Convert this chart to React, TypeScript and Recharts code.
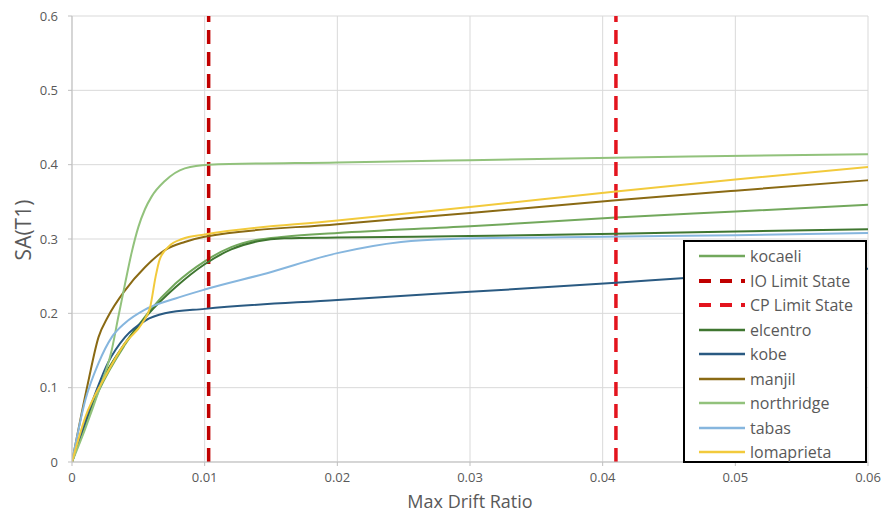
import React from 'react';
import { LineChart, Line, XAxis, YAxis, CartesianGrid, Label } from 'recharts';

const xTicks = [0, 0.01, 0.02, 0.03, 0.04, 0.05, 0.06];
const yTicks = [0, 0.1, 0.2, 0.3, 0.4, 0.5, 0.6];

const kocaeli: [number, number][] = [
  [0, 0], [0.002, 0.095], [0.004, 0.158], [0.0057, 0.2], [0.0078, 0.24], [0.01, 0.27],
  [0.012, 0.289], [0.014, 0.299], [0.016, 0.303], [0.02, 0.308], [0.03, 0.317],
  [0.041, 0.329], [0.05, 0.337], [0.06, 0.346],
];
const ioLimit: [number, number][] = [[0.0103, 0], [0.0103, 0.6]];
const cpLimit: [number, number][] = [[0.041, 0], [0.041, 0.6]];
const elcentro: [number, number][] = [
  [0, 0], [0.002, 0.1], [0.004, 0.16], [0.0057, 0.198], [0.0078, 0.235], [0.01, 0.266],
  [0.012, 0.286], [0.014, 0.297], [0.016, 0.301], [0.02, 0.302], [0.03, 0.304],
  [0.041, 0.307], [0.05, 0.31], [0.06, 0.313],
];
const kobe: [number, number][] = [
  [0, 0], [0.0015, 0.08], [0.0027, 0.133], [0.004, 0.168], [0.0055, 0.19], [0.007, 0.2],
  [0.01, 0.206], [0.02, 0.218], [0.03, 0.229], [0.041, 0.241], [0.0465, 0.248], [0.06, 0.26],
];
const manjil: [number, number][] = [
  [0, 0], [0.0012, 0.106], [0.002, 0.168], [0.0027, 0.195], [0.004, 0.231], [0.0055, 0.262],
  [0.007, 0.285], [0.0085, 0.296], [0.01, 0.303], [0.02, 0.32], [0.03, 0.335],
  [0.041, 0.352], [0.05, 0.365], [0.06, 0.379],
];
const northridge: [number, number][] = [
  [0, 0], [0.001, 0.045], [0.002, 0.095], [0.003, 0.151], [0.0035, 0.196], [0.004, 0.24],
  [0.0045, 0.282], [0.005, 0.316], [0.0055, 0.34], [0.006, 0.357], [0.007, 0.378],
  [0.0085, 0.395], [0.0103, 0.4], [0.02, 0.403], [0.03, 0.406], [0.0465, 0.411], [0.06, 0.414],
];
const tabas: [number, number][] = [
  [0, 0], [0.001, 0.083], [0.002, 0.133], [0.003, 0.168], [0.004, 0.187], [0.0055, 0.205],
  [0.0078, 0.22], [0.01, 0.232], [0.0147, 0.254], [0.02, 0.281], [0.0248, 0.296],
  [0.0286, 0.3], [0.04, 0.303], [0.05, 0.305], [0.06, 0.308],
];
const lomaprieta: [number, number][] = [
  [0, 0], [0.001, 0.06], [0.0025, 0.115], [0.004, 0.16], [0.0053, 0.187], [0.0059, 0.209],
  [0.0063, 0.249], [0.0066, 0.272], [0.0073, 0.29], [0.0083, 0.3], [0.01, 0.306],
  [0.02, 0.325], [0.03, 0.343], [0.041, 0.364], [0.05, 0.38], [0.06, 0.397],
];

type S = { name: string; pts: [number, number][]; color: string; dashed?: boolean };
const series: S[] = [
  { name: 'kocaeli', pts: kocaeli, color: '#72A85C' },
  { name: 'IO Limit State', pts: ioLimit, color: '#C00000', dashed: true },
  { name: 'CP Limit State', pts: cpLimit, color: '#E3141E', dashed: true },
  { name: 'elcentro', pts: elcentro, color: '#3F7630' },
  { name: 'kobe', pts: kobe, color: '#2A5A82' },
  { name: 'manjil', pts: manjil, color: '#8A6A14' },
  { name: 'northridge', pts: northridge, color: '#92C27C' },
  { name: 'tabas', pts: tabas, color: '#86B6DE' },
  { name: 'lomaprieta', pts: lomaprieta, color: '#F2CA3C' },
];

const toData = (pts: [number, number][]) => pts.map(([x, y]) => ({ x, y }));
const FONT = '"Open Sans", sans-serif';
const fmt = (v: number) => (v === 0 ? '0' : String(v));

export default function App() {
  return (
    <div style={{ position: 'relative', width: 885, height: 515, background: '#fff', fontFamily: FONT }}>
      <style>{'body{margin:0}'}</style>
      <LineChart width={885} height={515} margin={{ top: 16, right: 17, bottom: 0, left: 0 }}>
        <CartesianGrid stroke="#D9D9D9" strokeWidth={1} />
        <XAxis
          type="number"
          dataKey="x"
          domain={[0, 0.06]}
          ticks={xTicks}
          tickFormatter={fmt}
          height={53}
          stroke="#BFBFBF"
          tickSize={4}
          tickMargin={7}
          tick={{ fill: '#595959', fontSize: 13, fontFamily: FONT }}
          allowDataOverflow
        >
          <Label value="Max Drift Ratio" position="insideBottom" offset={7} fill="#595959" fontSize={18} fontFamily={FONT} />
        </XAxis>
        <YAxis
          type="number"
          dataKey="y"
          domain={[0, 0.6]}
          ticks={yTicks}
          tickFormatter={fmt}
          width={72}
          stroke="#BFBFBF"
          tickSize={4}
          tickMargin={10}
          tick={{ fill: '#595959', fontSize: 13, fontFamily: FONT }}
          allowDataOverflow
        >
          <Label
            content={() => (
              <text x={23} y={230} transform="rotate(-90 23 230)" textAnchor="middle" dominantBaseline="central" fill="#595959" fontSize={21} fontFamily={FONT}>
                SA(T1)
              </text>
            )}
          />
        </YAxis>
        {series.map((s) => (
          <Line
            key={s.name}
            name={s.name}
            data={toData(s.pts)}
            dataKey="y"
            type={s.dashed ? 'linear' : 'monotone'}
            stroke={s.color}
            strokeWidth={s.dashed ? 3.5 : 2}
            strokeDasharray={s.dashed ? '14 8' : undefined}
            dot={false}
            activeDot={false}
            isAnimationActive={false}
          />
        ))}
      </LineChart>
      <div
        style={{
          position: 'absolute', left: 683, top: 240, width: 184, height: 223, boxSizing: 'border-box',
          border: '2px solid #000', background: '#fff', paddingTop: 2,
        }}
      >
        {series.map((s) => (
          <div key={s.name} style={{ display: 'flex', alignItems: 'center', height: 24.5, marginLeft: 14 }}>
            <svg width={46} height={6} style={{ marginRight: 5 }}>
              <line x1={0} y1={3} x2={46} y2={3} stroke={s.color} strokeWidth={s.dashed ? 4 : 2.5} strokeDasharray={s.dashed ? '12 9' : undefined} />
            </svg>
            <span style={{ fontSize: 16, color: '#595959', fontFamily: FONT, lineHeight: '20px' }}>{s.name}</span>
          </div>
        ))}
      </div>
    </div>
  );
}
